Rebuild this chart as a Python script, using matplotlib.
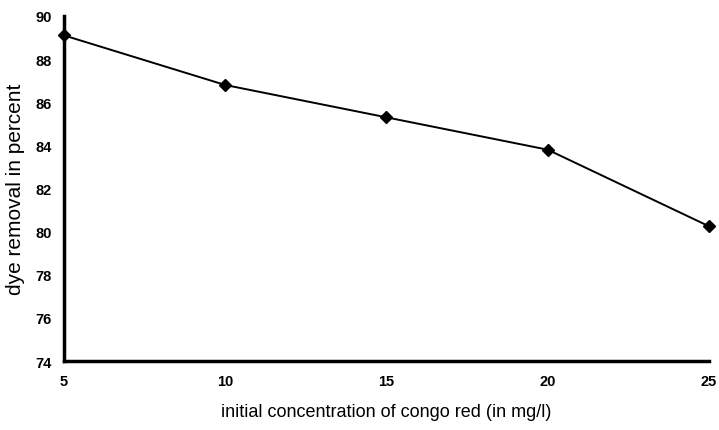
import matplotlib
matplotlib.use("Agg")
import matplotlib.pyplot as plt

concentration = [5, 10, 15, 20, 25]
removal = [89.1, 86.8, 85.3, 83.8, 80.25]
x_ticks = [5, 10, 15, 20, 25]
y_ticks = [74, 76, 78, 80, 82, 84, 86, 88, 90]

plt.rcParams['font.family'] = ['Liberation Sans', 'DejaVu Sans']

fig = plt.figure(figsize=(7.19, 4.31), dpi=100)
ax = fig.add_axes([0.089, 0.160, 0.897, 0.8006])
ax.plot(concentration, removal, color='black', lw=1.4, marker='D', markersize=6,
        markerfacecolor='black', markeredgecolor='black', clip_on=False, zorder=3)
ax.set_xlim(5, 25)
ax.set_ylim(74, 90)
ax.set_xticks(x_ticks)
ax.set_yticks(y_ticks)
ax.tick_params(length=0, labelsize=10.5, pad=9)
for lbl in ax.get_xticklabels() + ax.get_yticklabels():
    lbl.set_fontweight('bold')
for s in ['top', 'right']:
    ax.spines[s].set_visible(False)
ax.spines['left'].set_linewidth(2.5)
ax.spines['bottom'].set_linewidth(2.5)
ax.set_xlabel('initial concentration of congo red (in mg/l)', fontsize=13, labelpad=11)
ax.set_ylabel('dye removal in percent', fontsize=15, labelpad=7)
fig.savefig('out.png', dpi=100)
